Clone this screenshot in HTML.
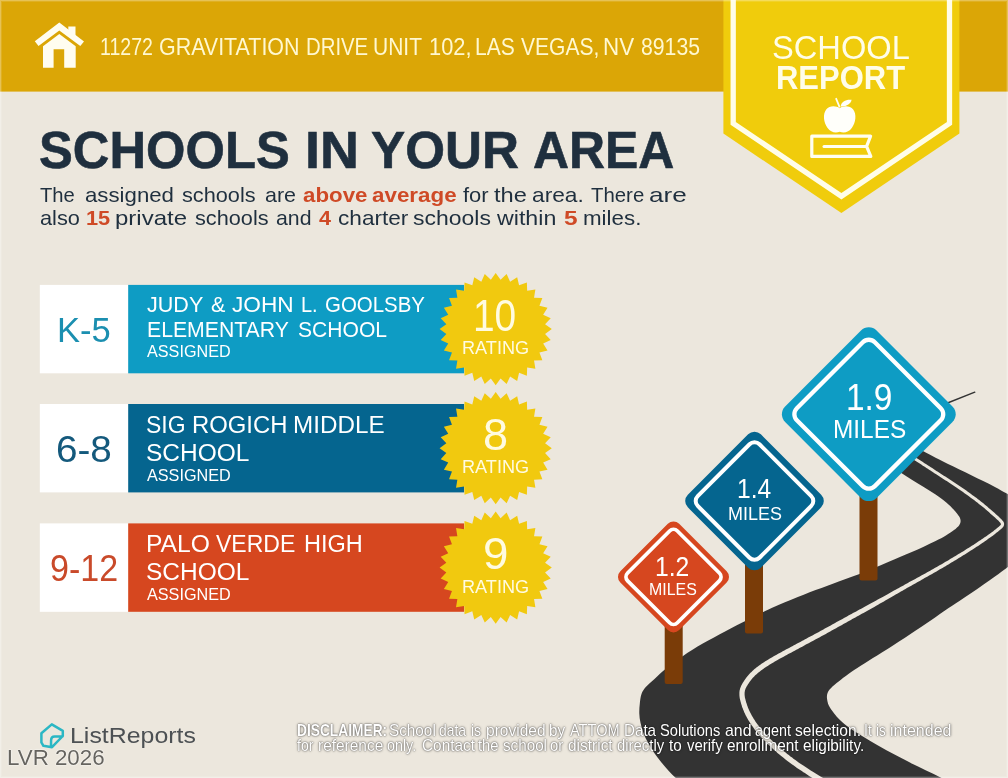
<!DOCTYPE html>
<html lang="en"><head><meta charset="utf-8"><title>School Report</title><style>html,body{margin:0;padding:0}body{width:1008px;height:778px;overflow:hidden;background:#ece7dd;position:relative;font-family:"Liberation Sans",sans-serif}
.t{position:absolute;white-space:nowrap;line-height:1em;transform-origin:0 0;}
.tx{position:absolute;left:0;top:0;width:1008px;height:778px;will-change:transform}
.edge{position:absolute;left:0;top:0;width:1008px;height:778px;box-sizing:border-box;border:1px solid rgba(255,255,255,.32);box-shadow:inset 0 0 0 1px rgba(255,255,255,.12)}
.wm{text-shadow:0 0 1.5px #fff,0 0 1.5px #fff}
.sh{text-shadow:0 0 1.5px rgba(0,0,0,.7),0 0 3px rgba(0,0,0,.45)}</style></head><body>
<svg width="1008" height="778" viewBox="0 0 1008 778" style="position:absolute;left:0;top:0"><rect x="0" y="0" width="1008" height="91.6" fill="#dba606"/><path d="M723.4 0 H959.4 V133.6 L841.4 213 L723.4 133.6 Z" fill="#f0cc0c"/><path d="M733.2 -5 V123.4 L841.4 196.3 L949.5 123.4 V-5" fill="none" stroke="#fffde8" stroke-width="5.3" stroke-linejoin="miter"/><g fill="#fffdf0"><path d="M59.3 22.4 L84 41.4 L80.3 46.1 L59.3 30.5 L38.5 46.1 L34.8 41.2 Z"/><path d="M68.3 26.4 H75.5 V36 L68.3 30.4 Z"/><path d="M43 46.2 L59.3 33.9 L75.7 46.2 V67.8 H64.2 V49.3 H53.6 V67.8 H43 Z"/></g><g fill="#fffffa"><path d="M839.7 108.2 C836 105.6 829.5 105.4 826.2 109.6 C822.6 114.2 823.6 122.6 827.6 128 C830.6 132 835 133.6 839.7 131.8 C844.4 133.6 848.8 132 851.8 128 C855.8 122.6 856.8 114.2 853.2 109.6 C849.9 105.4 843.4 105.6 839.7 108.2 Z"/><path d="M840.6 106.4 C841.2 101.6 846 99.2 851.6 99.8 C850.8 104 846.4 106.8 840.6 106.4 Z"/></g><path d="M839.4 106.6 L836.2 98.8" stroke="#fffef0" stroke-width="1.8" stroke-linecap="round" fill="none"/><path d="M870.6 136.2 H811.8 V156.4 H870.8 L866.6 146.4 Z" fill="none" stroke="#fffef0" stroke-width="3.2" stroke-linejoin="round"/><path d="M824 146.4 H866" stroke="#fffef0" stroke-width="3" stroke-linecap="round"/><rect x="39.8" y="284.9" width="88.5" height="88.4" fill="#fff"/><rect x="128.2" y="284.9" width="335.9" height="88.4" fill="#0e9cc4"/><polygon points="495.70,273.00 500.56,279.74 506.64,274.08 510.10,281.64 517.17,277.27 519.08,285.36 526.87,282.45 527.17,290.76 535.37,289.43 534.04,297.63 542.35,297.93 539.44,305.72 547.53,307.63 543.16,314.70 550.72,318.16 545.06,324.24 551.80,329.10 545.06,333.96 550.72,340.04 543.16,343.50 547.53,350.57 539.44,352.48 542.35,360.27 534.04,360.57 535.37,368.77 527.17,367.44 526.87,375.75 519.08,372.84 517.17,380.93 510.10,376.56 506.64,384.12 500.56,378.46 495.70,385.20 490.84,378.46 484.76,384.12 481.30,376.56 474.23,380.93 472.32,372.84 464.53,375.75 464.23,367.44 456.03,368.77 457.36,360.57 449.05,360.27 451.96,352.48 443.87,350.57 448.24,343.50 440.68,340.04 446.34,333.96 439.60,329.10 446.34,324.24 440.68,318.16 448.24,314.70 443.87,307.63 451.96,305.72 449.05,297.93 457.36,297.63 456.03,289.43 464.23,290.76 464.53,282.45 472.32,285.36 474.23,277.27 481.30,281.64 484.76,274.08 490.84,279.74" fill="#f1c90f"/><rect x="39.8" y="404.0" width="88.5" height="88.4" fill="#fff"/><rect x="128.2" y="404.0" width="335.9" height="88.4" fill="#05658f"/><polygon points="495.70,392.10 500.56,398.84 506.64,393.18 510.10,400.74 517.17,396.37 519.08,404.46 526.87,401.55 527.17,409.86 535.37,408.53 534.04,416.73 542.35,417.03 539.44,424.82 547.53,426.73 543.16,433.80 550.72,437.26 545.06,443.34 551.80,448.20 545.06,453.06 550.72,459.14 543.16,462.60 547.53,469.67 539.44,471.58 542.35,479.37 534.04,479.67 535.37,487.87 527.17,486.54 526.87,494.85 519.08,491.94 517.17,500.03 510.10,495.66 506.64,503.22 500.56,497.56 495.70,504.30 490.84,497.56 484.76,503.22 481.30,495.66 474.23,500.03 472.32,491.94 464.53,494.85 464.23,486.54 456.03,487.87 457.36,479.67 449.05,479.37 451.96,471.58 443.87,469.67 448.24,462.60 440.68,459.14 446.34,453.06 439.60,448.20 446.34,443.34 440.68,437.26 448.24,433.80 443.87,426.73 451.96,424.82 449.05,417.03 457.36,416.73 456.03,408.53 464.23,409.86 464.53,401.55 472.32,404.46 474.23,396.37 481.30,400.74 484.76,393.18 490.84,398.84" fill="#f1c90f"/><rect x="39.8" y="523.4" width="88.5" height="88.4" fill="#fff"/><rect x="128.2" y="523.4" width="335.9" height="88.4" fill="#d6471f"/><polygon points="495.70,511.50 500.56,518.24 506.64,512.58 510.10,520.14 517.17,515.77 519.08,523.86 526.87,520.95 527.17,529.26 535.37,527.93 534.04,536.13 542.35,536.43 539.44,544.22 547.53,546.13 543.16,553.20 550.72,556.66 545.06,562.74 551.80,567.60 545.06,572.46 550.72,578.54 543.16,582.00 547.53,589.07 539.44,590.98 542.35,598.77 534.04,599.07 535.37,607.27 527.17,605.94 526.87,614.25 519.08,611.34 517.17,619.43 510.10,615.06 506.64,622.62 500.56,616.96 495.70,623.70 490.84,616.96 484.76,622.62 481.30,615.06 474.23,619.43 472.32,611.34 464.53,614.25 464.23,605.94 456.03,607.27 457.36,599.07 449.05,598.77 451.96,590.98 443.87,589.07 448.24,582.00 440.68,578.54 446.34,572.46 439.60,567.60 446.34,562.74 440.68,556.66 448.24,553.20 443.87,546.13 451.96,544.22 449.05,536.43 457.36,536.13 456.03,527.93 464.23,529.26 464.53,520.95 472.32,523.86 474.23,515.77 481.30,520.14 484.76,512.58 490.84,518.24" fill="#f1c90f"/><path d="M683.0 785.0 C681.8 783.9 678.3 780.5 676.0 778.2 C673.6 775.8 671.3 773.6 668.8 770.9 C666.4 768.2 663.7 765.2 661.3 762.2 C658.8 759.2 656.3 755.9 654.1 752.7 C651.9 749.5 649.9 746.4 648.2 743.1 C646.4 739.9 644.8 736.6 643.5 733.3 C642.3 730.0 641.3 726.5 640.6 723.2 C639.8 719.9 639.4 716.6 639.3 713.4 C639.2 710.2 639.4 707.0 639.8 703.8 C640.1 700.6 640.5 696.8 641.5 694.0 C642.5 691.2 643.6 689.5 645.8 687.0 C648.0 684.5 651.0 682.0 654.5 678.9 C657.9 675.8 661.7 672.1 666.5 668.3 C671.2 664.5 676.9 660.1 683.0 656.0 C689.0 651.8 695.7 647.7 702.8 643.6 C709.8 639.5 718.0 635.2 725.5 631.2 C732.9 627.3 740.9 623.3 747.4 620.0 C754.0 616.6 759.5 613.8 764.7 611.2 C770.0 608.7 774.5 606.7 779.0 604.7 C783.5 602.8 787.7 601.2 791.8 599.5 C795.9 597.9 799.7 596.3 803.7 594.8 C807.7 593.2 811.6 591.7 815.6 590.1 C819.6 588.6 823.5 587.2 827.5 585.7 C831.5 584.2 835.6 582.6 839.4 581.2 C843.2 579.8 846.7 578.6 850.4 577.2 C854.2 575.8 857.7 574.6 861.9 572.9 C866.1 571.3 871.0 569.4 875.4 567.6 C879.8 565.8 884.1 563.9 888.2 562.1 C892.3 560.3 896.0 558.7 899.9 557.0 C903.8 555.3 907.8 553.6 911.8 551.9 C915.8 550.2 919.7 548.5 923.7 546.7 C927.7 544.9 931.8 543.0 935.6 541.1 C939.4 539.2 943.3 537.2 946.3 535.3 C949.4 533.5 951.9 531.8 954.0 530.1 C956.2 528.4 958.1 526.7 959.2 525.2 C960.3 523.7 960.6 522.4 960.6 521.0 C960.6 519.6 960.3 518.5 959.2 516.6 C958.1 514.7 956.2 512.2 954.0 509.9 C951.9 507.5 949.4 504.9 946.3 502.4 C943.3 499.8 939.4 497.0 935.6 494.5 C931.8 491.9 927.6 489.4 923.7 487.0 C919.8 484.6 916.0 482.3 912.2 480.0 C908.5 477.7 905.0 475.5 901.3 473.1 C897.6 470.8 891.9 467.2 890.0 466.0 L905.0 442.0 C907.8 443.4 916.9 448.0 922.0 450.6 C927.1 453.2 931.4 455.5 935.6 457.7 C939.9 459.9 943.5 461.8 947.5 463.8 C951.5 465.7 955.4 467.6 959.4 469.5 C963.4 471.4 967.3 473.3 971.3 475.2 C975.3 477.1 979.2 479.1 983.2 481.1 C987.2 483.1 991.5 485.3 995.4 487.3 C999.2 489.4 1003.2 491.6 1006.3 493.3 C1009.4 495.0 1012.7 497.1 1014.0 497.8 L1014.0 562.5 C1012.7 563.5 1009.4 566.0 1006.3 568.2 C1003.2 570.5 999.2 573.5 995.3 576.2 C991.5 579.0 987.2 582.0 983.2 584.8 C979.2 587.6 975.3 590.3 971.3 593.0 C967.3 595.7 963.2 598.4 959.4 600.9 C955.6 603.4 952.5 605.4 948.6 608.1 C944.7 610.8 941.2 613.2 935.8 616.9 C930.4 620.6 923.3 625.6 916.1 630.3 C909.0 635.1 900.2 640.9 893.0 645.5 C885.7 650.2 878.5 654.6 872.5 658.3 C866.6 662.1 861.8 665.0 857.3 668.0 C852.9 670.9 849.3 673.4 845.8 675.9 C842.3 678.4 839.3 680.8 836.6 683.0 C833.9 685.3 831.3 687.6 829.8 689.3 C828.3 691.0 827.9 692.0 827.4 693.5 C826.9 695.0 826.8 696.5 827.0 698.5 C827.2 700.5 827.7 703.1 828.8 705.5 C829.9 707.9 831.9 710.4 833.8 712.9 C835.7 715.4 837.7 717.8 840.2 720.2 C842.7 722.6 845.2 724.8 848.7 727.3 C852.2 729.9 856.4 732.5 861.2 735.5 C866.0 738.5 871.9 742.0 877.6 745.2 C883.3 748.5 889.5 751.8 895.5 755.0 C901.4 758.2 907.7 761.4 913.3 764.3 C919.0 767.1 924.5 769.7 929.4 772.1 C934.3 774.5 938.2 776.3 942.5 778.5 C946.8 780.6 952.9 783.9 955.0 785.0 Z" fill="#333333"/><path d="M830.5 782.7 L829.7 782.2 L828.7 781.6 L827.4 780.8 L826.1 779.9 L824.7 779.1 L823.2 778.1 L821.8 777.3 L820.5 776.5 L819.3 775.7 L818.1 775.0 L816.9 774.2 L815.7 773.5 L814.5 772.8 L813.3 772.0 L812.0 771.3 L810.7 770.4 L809.3 769.5 L807.8 768.6 L806.3 767.6 L804.8 766.6 L803.3 765.6 L801.7 764.5 L800.1 763.5 L798.6 762.4 L797.0 761.2 L795.4 760.1 L793.7 758.9 L792.1 757.6 L790.4 756.4 L788.8 755.1 L787.2 753.9 L785.6 752.6 L784.1 751.4 L782.5 750.1 L781.0 748.8 L779.6 747.5 L778.1 746.3 L776.7 745.0 L775.2 743.7 L773.8 742.4 L772.5 741.0 L771.1 739.7 L769.8 738.4 L768.5 737.1 L767.2 735.8 L766.0 734.5 L764.7 733.1 L763.6 731.8 L762.4 730.5 L761.3 729.2 L760.3 727.9 L759.2 726.6 L758.2 725.3 L757.2 724.0 L756.3 722.7 L755.4 721.4 L754.6 720.1 L753.8 718.9 L753.0 717.6 L752.2 716.3 L751.5 715.0 L750.9 713.8 L750.2 712.6 L749.7 711.4 L749.1 710.2 L748.6 709.0 L748.1 707.9 L747.7 706.8 L747.3 705.7 L746.9 704.6 L746.6 703.5 L746.2 702.4 L745.9 701.3 L745.6 700.3 L745.4 699.3 L745.1 698.3 L744.9 697.4 L744.8 696.5 L744.7 695.7 L744.6 694.8 L744.6 694.1 L744.6 693.3 L744.6 692.7 L744.7 692.1 L744.8 691.4 L744.9 690.8 L745.1 690.1 L745.3 689.4 L745.6 688.6 L746.0 687.8 L746.4 687.0 L746.9 686.1 L747.5 685.2 L748.0 684.3 L748.6 683.4 L749.2 682.5 L749.9 681.6 L750.5 680.7 L751.2 679.8 L751.9 679.0 L752.6 678.1 L753.4 677.2 L754.2 676.4 L755.0 675.5 L755.9 674.7 L756.9 673.9 L757.8 673.0 L758.8 672.2 L759.9 671.4 L761.0 670.5 L762.1 669.7 L763.2 668.9 L764.4 668.1 L765.6 667.3 L766.8 666.5 L768.1 665.7 L769.4 664.8 L770.7 664.0 L772.0 663.2 L773.4 662.4 L774.8 661.6 L776.2 660.8 L777.6 660.0 L779.1 659.1 L780.6 658.3 L782.1 657.5 L783.6 656.7 L785.2 655.8 L786.7 655.0 L788.3 654.1 L789.9 653.3 L791.5 652.4 L793.1 651.5 L794.7 650.7 L796.3 649.8 L798.0 648.9 L799.5 648.1 L801.1 647.2 L802.7 646.4 L804.3 645.5 L805.9 644.6 L807.5 643.8 L809.1 642.9 L810.7 642.1 L812.2 641.3 L813.7 640.4 L815.3 639.6 L816.8 638.8 L818.3 638.0 L819.8 637.2 L821.3 636.3 L822.8 635.5 L824.3 634.7 L825.8 633.9 L827.3 633.1 L828.7 632.2 L830.2 631.4 L831.7 630.6 L833.1 629.8 L834.6 629.0 L836.1 628.2 L837.6 627.3 L839.0 626.5 L840.5 625.7 L842.0 624.9 L843.4 624.1 L844.9 623.2 L846.4 622.4 L847.9 621.6 L849.4 620.8 L850.9 620.0 L852.3 619.1 L853.8 618.3 L855.4 617.5 L856.9 616.6 L858.5 615.7 L860.2 614.8 L861.8 613.8 L863.5 612.9 L865.3 611.9 L867.0 610.9 L868.8 609.9 L870.6 608.9 L872.4 607.9 L874.3 606.9 L876.2 605.8 L878.1 604.7 L880.0 603.6 L882.0 602.5 L883.9 601.4 L885.7 600.3 L887.6 599.3 L889.3 598.3 L891.1 597.2 L892.8 596.3 L894.5 595.3 L896.1 594.3 L897.7 593.4 L899.3 592.5 L900.9 591.6 L902.5 590.7 L904.0 589.8 L905.5 589.0 L906.9 588.1 L908.4 587.3 L909.8 586.5 L911.3 585.7 L912.8 584.8 L914.3 584.0 L915.7 583.2 L917.2 582.3 L918.7 581.5 L920.2 580.7 L921.7 579.8 L923.1 579.0 L924.6 578.1 L926.1 577.3 L927.6 576.5 L929.1 575.6 L930.6 574.8 L932.1 573.9 L933.6 573.1 L935.0 572.2 L936.5 571.4 L938.0 570.5 L939.5 569.6 L941.0 568.8 L942.5 567.9 L944.0 567.0 L945.5 566.2 L946.9 565.3 L948.4 564.4 L949.9 563.5 L951.4 562.6 L952.9 561.7 L954.4 560.8 L955.9 559.9 L957.4 559.0 L958.8 558.1 L960.3 557.2 L961.8 556.2 L963.3 555.3 L964.8 554.4 L966.3 553.4 L967.8 552.5 L969.3 551.5 L970.8 550.6 L972.2 549.7 L973.7 548.7 L975.2 547.8 L976.6 546.8 L978.1 545.9 L979.5 544.9 L980.9 544.0 L982.3 543.1 L983.6 542.2 L984.9 541.3 L986.1 540.4 L987.4 539.5 L988.6 538.6 L989.8 537.8 L990.9 537.0 L992.0 536.2 L993.1 535.4 L994.0 534.7 L995.0 534.0 L995.8 533.3 L996.7 532.6 L997.5 532.0 L998.2 531.4 L998.9 530.8 L999.6 530.2 L1000.2 529.7 L1000.8 529.2 L1001.4 528.7 L1002.0 528.2 L1002.5 527.7 L1003.0 527.1 L1003.5 526.5 L1003.8 525.7 L1004.0 525.1 L1004.1 524.4 L1004.1 523.7 L1004.0 523.0 L1003.7 522.3 L1003.3 521.6 L1002.8 520.9 L1002.2 520.2 L1001.4 519.3 L1000.5 518.4 L999.5 517.4 L998.3 516.3 L997.1 515.2 L995.9 514.2 L994.7 513.1 L993.5 512.0 L992.3 511.0 L991.2 510.0 L990.0 508.9 L988.7 507.9 L987.5 506.8 L986.2 505.7 L984.9 504.7 L983.6 503.6 L982.3 502.5 L980.9 501.4 L979.5 500.3 L978.0 499.2 L976.6 498.1 L975.1 497.0 L973.7 495.9 L972.2 494.9 L970.7 493.8 L969.3 492.7 L967.8 491.7 L966.3 490.6 L964.8 489.6 L963.3 488.6 L961.8 487.5 L960.3 486.5 L958.8 485.5 L957.3 484.5 L955.8 483.5 L954.3 482.5 L952.8 481.5 L951.3 480.6 L949.8 479.6 L948.3 478.6 L946.8 477.6 L945.3 476.6 L943.8 475.7 L942.3 474.7 L940.8 473.7 L939.3 472.8 L937.9 471.8 L936.4 470.9 L935.0 469.9 L933.6 469.0 L932.2 468.1 L930.8 467.2 L929.4 466.3 L928.1 465.4 L926.7 464.6 L925.4 463.7 L924.1 462.9 L922.9 462.1 L921.7 461.3 L920.5 460.5 L919.3 459.8 L918.1 459.0 L916.9 458.2 L915.7 457.5 L914.4 456.7 L913.0 455.8 L911.5 454.9 L910.1 454.0 L908.8 453.1 L907.6 452.4 L906.5 451.7 L905.8 451.3 L904.2 453.7 L905.0 454.2 L906.0 454.9 L907.2 455.6 L908.5 456.5 L910.0 457.4 L911.4 458.3 L912.8 459.2 L914.1 460.0 L915.3 460.8 L916.5 461.5 L917.7 462.3 L918.9 463.0 L920.1 463.8 L921.3 464.6 L922.5 465.4 L923.8 466.2 L925.1 467.1 L926.4 467.9 L927.8 468.8 L929.1 469.7 L930.5 470.6 L931.9 471.5 L933.4 472.5 L934.8 473.4 L936.2 474.3 L937.7 475.3 L939.2 476.2 L940.7 477.2 L942.2 478.2 L943.7 479.2 L945.2 480.2 L946.7 481.1 L948.2 482.1 L949.6 483.1 L951.1 484.1 L952.6 485.1 L954.1 486.0 L955.6 487.0 L957.1 488.0 L958.5 489.0 L960.0 490.1 L961.5 491.1 L963.0 492.1 L964.5 493.2 L966.0 494.2 L967.5 495.3 L968.9 496.3 L970.4 497.4 L971.8 498.4 L973.3 499.5 L974.7 500.6 L976.1 501.7 L977.6 502.8 L978.9 503.9 L980.3 504.9 L981.6 506.0 L982.9 507.1 L984.2 508.1 L985.5 509.2 L986.7 510.2 L987.9 511.3 L989.1 512.3 L990.2 513.4 L991.4 514.4 L992.6 515.5 L993.8 516.5 L995.0 517.6 L996.2 518.7 L997.3 519.7 L998.3 520.6 L999.1 521.5 L999.8 522.2 L1000.3 522.8 L1000.6 523.3 L1000.8 523.7 L1000.9 523.9 L1000.9 524.0 L1000.9 524.2 L1000.9 524.4 L1000.8 524.7 L1000.7 524.9 L1000.5 525.1 L1000.2 525.4 L999.8 525.8 L999.3 526.2 L998.8 526.7 L998.1 527.2 L997.5 527.7 L996.8 528.3 L996.1 528.9 L995.4 529.5 L994.6 530.1 L993.8 530.7 L993.0 531.4 L992.1 532.1 L991.1 532.8 L990.1 533.5 L989.0 534.3 L987.9 535.1 L986.7 535.9 L985.5 536.8 L984.2 537.6 L983.0 538.5 L981.7 539.3 L980.4 540.2 L979.0 541.1 L977.6 542.1 L976.2 543.0 L974.7 543.9 L973.3 544.9 L971.8 545.8 L970.4 546.7 L968.9 547.7 L967.4 548.6 L965.9 549.5 L964.5 550.5 L963.0 551.4 L961.5 552.3 L960.0 553.2 L958.5 554.1 L957.0 555.0 L955.5 555.9 L954.0 556.8 L952.5 557.7 L951.0 558.6 L949.5 559.5 L948.1 560.4 L946.6 561.3 L945.1 562.1 L943.6 563.0 L942.1 563.9 L940.6 564.7 L939.1 565.6 L937.6 566.4 L936.2 567.3 L934.7 568.1 L933.2 569.0 L931.7 569.8 L930.2 570.7 L928.7 571.5 L927.2 572.3 L925.7 573.2 L924.3 574.0 L922.8 574.8 L921.3 575.6 L919.8 576.4 L918.3 577.3 L916.8 578.1 L915.3 578.9 L913.8 579.7 L912.3 580.5 L910.8 581.3 L909.3 582.1 L907.9 582.9 L906.4 583.7 L904.9 584.5 L903.5 585.4 L902.0 586.2 L900.4 587.0 L898.9 587.9 L897.3 588.8 L895.6 589.7 L894.0 590.6 L892.3 591.6 L890.6 592.5 L888.9 593.5 L887.2 594.4 L885.4 595.4 L883.6 596.4 L881.7 597.5 L879.7 598.6 L877.8 599.6 L875.8 600.7 L873.9 601.8 L872.0 602.8 L870.1 603.8 L868.3 604.8 L866.5 605.8 L864.7 606.8 L863.0 607.7 L861.2 608.7 L859.5 609.6 L857.8 610.5 L856.2 611.4 L854.6 612.3 L853.0 613.1 L851.5 614.0 L849.9 614.8 L848.4 615.6 L847.0 616.4 L845.5 617.2 L844.0 618.0 L842.5 618.9 L841.0 619.7 L839.5 620.5 L838.1 621.3 L836.6 622.1 L835.1 622.9 L833.7 623.8 L832.2 624.6 L830.7 625.4 L829.2 626.2 L827.8 627.0 L826.3 627.8 L824.8 628.6 L823.4 629.5 L821.9 630.3 L820.4 631.1 L818.9 631.9 L817.4 632.7 L815.9 633.5 L814.4 634.3 L812.9 635.2 L811.3 636.0 L809.8 636.8 L808.2 637.6 L806.7 638.5 L805.1 639.3 L803.5 640.2 L801.9 641.0 L800.3 641.9 L798.7 642.7 L797.1 643.6 L795.5 644.5 L793.9 645.3 L792.3 646.2 L790.7 647.0 L789.1 647.9 L787.5 648.8 L785.9 649.6 L784.3 650.5 L782.7 651.3 L781.2 652.2 L779.7 653.0 L778.1 653.8 L776.6 654.7 L775.1 655.5 L773.7 656.3 L772.2 657.2 L770.8 658.0 L769.4 658.8 L768.0 659.7 L766.7 660.5 L765.3 661.3 L764.0 662.2 L762.7 663.0 L761.5 663.8 L760.3 664.7 L759.1 665.6 L757.9 666.4 L756.7 667.3 L755.6 668.2 L754.5 669.1 L753.5 670.0 L752.4 670.9 L751.5 671.9 L750.5 672.8 L749.6 673.7 L748.7 674.7 L747.9 675.7 L747.2 676.6 L746.4 677.6 L745.7 678.6 L745.0 679.5 L744.3 680.5 L743.7 681.5 L743.0 682.5 L742.4 683.5 L741.9 684.5 L741.3 685.6 L740.9 686.6 L740.5 687.6 L740.1 688.6 L739.9 689.5 L739.6 690.4 L739.5 691.4 L739.4 692.3 L739.4 693.2 L739.4 694.2 L739.4 695.2 L739.5 696.2 L739.6 697.3 L739.8 698.4 L740.0 699.5 L740.3 700.6 L740.6 701.7 L740.9 702.8 L741.2 703.9 L741.6 705.0 L741.9 706.2 L742.3 707.4 L742.8 708.6 L743.2 709.8 L743.8 711.1 L744.3 712.4 L744.9 713.6 L745.5 714.9 L746.2 716.2 L746.9 717.6 L747.7 718.9 L748.4 720.3 L749.3 721.6 L750.1 723.0 L751.0 724.4 L752.0 725.8 L753.0 727.1 L754.0 728.5 L755.0 729.9 L756.1 731.2 L757.2 732.6 L758.4 734.0 L759.6 735.4 L760.8 736.7 L762.0 738.1 L763.3 739.5 L764.7 740.8 L766.0 742.2 L767.4 743.6 L768.8 744.9 L770.2 746.2 L771.6 747.6 L773.0 748.9 L774.5 750.3 L776.0 751.6 L777.5 752.9 L779.1 754.2 L780.6 755.5 L782.2 756.8 L783.8 758.1 L785.5 759.4 L787.1 760.7 L788.8 762.0 L790.5 763.2 L792.2 764.4 L793.8 765.6 L795.4 766.8 L797.0 767.9 L798.6 769.0 L800.2 770.1 L801.8 771.1 L803.4 772.2 L804.9 773.1 L806.3 774.1 L807.7 775.0 L809.1 775.9 L810.4 776.7 L811.6 777.4 L812.8 778.2 L814.0 778.9 L815.2 779.6 L816.4 780.4 L817.6 781.1 L818.9 781.9 L820.3 782.8 L821.8 783.7 L823.2 784.6 L824.5 785.4 L825.8 786.2 L826.8 786.8 L827.5 787.3 Z" fill="#ece7dd"/><path d="M859.5 480.0 V578.4 Q859.5 580.4 861.5 580.4 H875.5 Q877.5 580.4 877.5 578.4 V480.0 Z" fill="#7a3c08"/><path d="M745.0 550.0 V631.4 Q745.0 633.4 747.0 633.4 H761.0 Q763.0 633.4 763.0 631.4 V550.0 Z" fill="#7a3c08"/><path d="M664.7 615.0 V681.9 Q664.7 683.9 666.7 683.9 H680.7 Q682.7 683.9 682.7 681.9 V615.0 Z" fill="#7a3c08"/><path d="M947.5 403 L974.8 392.2" stroke="#333" stroke-width="1.4" stroke-linecap="round"/><g transform="translate(868.80 414.20) rotate(45)"><rect x="-64.67" y="-64.67" width="129.34" height="129.34" rx="11.00" fill="#0e9cc4"/><rect x="-55.12" y="-55.12" width="110.24" height="110.24" rx="8.50" fill="none" stroke="#fff" stroke-width="4.30"/></g><g transform="translate(754.50 501.00) rotate(45)"><rect x="-51.64" y="-51.64" width="103.28" height="103.28" rx="9.00" fill="#05658f"/><rect x="-43.64" y="-43.64" width="87.28" height="87.28" rx="7.00" fill="none" stroke="#fff" stroke-width="4.00"/></g><g transform="translate(673.50 576.90) rotate(45)"><rect x="-41.59" y="-41.59" width="83.18" height="83.18" rx="8.00" fill="#d6471f"/><rect x="-35.19" y="-35.19" width="70.38" height="70.38" rx="5.50" fill="none" stroke="#fff" stroke-width="3.80"/></g><path d="M51.8 724.4 L62.8 730.9 V736 L52 747.2 L43.4 745.8 L41.4 742.4 V733.2 Z M62.4 736.5 H54.6 Q51.2 736.5 51.1 740 L51 746.6" fill="none" stroke="#2bb7c4" stroke-width="2.5" stroke-linejoin="round" stroke-linecap="round"/></svg>
<div class="tx">
<div class="t" style="left:99.55px;top:36.11px;font-size:23.26px;transform:scaleX(0.8400);color:#fff8d0;">11272</div>
<div class="t" style="left:158.98px;top:36.11px;font-size:23.26px;transform:scaleX(0.9218);color:#fff8d0;">GRAVITATION</div>
<div class="t" style="left:305.92px;top:36.11px;font-size:23.26px;transform:scaleX(0.8750);color:#fff8d0;">DRIVE</div>
<div class="t" style="left:373.35px;top:36.11px;font-size:23.26px;transform:scaleX(0.9038);color:#fff8d0;">UNIT</div>
<div class="t" style="left:428.70px;top:36.11px;font-size:23.26px;transform:scaleX(0.9395);color:#fff8d0;">102,</div>
<div class="t" style="left:475.45px;top:36.11px;font-size:23.26px;transform:scaleX(0.9054);color:#fff8d0;">LAS</div>
<div class="t" style="left:521.07px;top:36.11px;font-size:23.26px;transform:scaleX(0.9043);color:#fff8d0;">VEGAS,</div>
<div class="t" style="left:602.54px;top:36.11px;font-size:23.26px;transform:scaleX(0.9631);color:#fff8d0;">NV</div>
<div class="t" style="left:640.92px;top:36.11px;font-size:23.26px;transform:scaleX(0.9131);color:#fff8d0;">89135</div>
<div class="t" style="left:772.09px;top:30.11px;font-size:34.01px;transform:scaleX(0.9602);color:#fffde8;">SCHOOL</div>
<div class="t" style="left:775.75px;top:61.99px;font-size:32.85px;transform:scaleX(0.9436);color:#fffde8;"><span style="font-weight:bold;">REPORT</span></div>
<div class="t" style="left:38.91px;top:125.14px;font-size:51.45px;transform:scaleX(0.9857);color:#1f2f3e;-webkit-text-stroke:0.6px #1f2f3e;"><span style="font-weight:bold;">SCHOOLS</span></div>
<div class="t" style="left:304.97px;top:125.14px;font-size:51.45px;transform:scaleX(1.0481);color:#1f2f3e;-webkit-text-stroke:0.6px #1f2f3e;"><span style="font-weight:bold;">IN</span></div>
<div class="t" style="left:371.12px;top:125.14px;font-size:51.45px;transform:scaleX(0.9951);color:#1f2f3e;-webkit-text-stroke:0.6px #1f2f3e;"><span style="font-weight:bold;">YOUR</span></div>
<div class="t" style="left:533.38px;top:125.14px;font-size:51.45px;transform:scaleX(0.9699);color:#1f2f3e;-webkit-text-stroke:0.6px #1f2f3e;"><span style="font-weight:bold;">AREA</span></div>
<div class="t" style="left:40.31px;top:184.88px;font-size:20.93px;transform:scaleX(0.9660);color:#1f2f3e;">The</div>
<div class="t" style="left:84.51px;top:184.88px;font-size:20.93px;transform:scaleX(1.0625);color:#1f2f3e;">assigned</div>
<div class="t" style="left:182.18px;top:184.88px;font-size:20.93px;transform:scaleX(1.0377);color:#1f2f3e;">schools</div>
<div class="t" style="left:264.60px;top:184.88px;font-size:20.93px;transform:scaleX(1.0273);color:#1f2f3e;">are</div>
<div class="t" style="left:303.11px;top:184.88px;font-size:20.93px;transform:scaleX(1.0656);color:#1f2f3e;"><span style="font-weight:bold;color:#cf4a26;">above</span></div>
<div class="t" style="left:372.12px;top:184.88px;font-size:20.93px;transform:scaleX(1.0697);color:#1f2f3e;"><span style="font-weight:bold;color:#cf4a26;">average</span></div>
<div class="t" style="left:462.90px;top:184.88px;font-size:20.93px;transform:scaleX(1.0499);color:#1f2f3e;">for</div>
<div class="t" style="left:493.96px;top:184.88px;font-size:20.93px;transform:scaleX(1.1305);color:#1f2f3e;">the</div>
<div class="t" style="left:531.71px;top:184.88px;font-size:20.93px;transform:scaleX(1.0869);color:#1f2f3e;">area.</div>
<div class="t" style="left:590.51px;top:184.88px;font-size:20.93px;transform:scaleX(0.9741);color:#1f2f3e;">There</div>
<div class="t" style="left:649.02px;top:184.88px;font-size:20.93px;transform:scaleX(1.2495);color:#1f2f3e;">are</div>
<div class="t" style="left:39.91px;top:208.28px;font-size:20.93px;transform:scaleX(1.0412);color:#1f2f3e;">also</div>
<div class="t" style="left:86.38px;top:208.28px;font-size:20.93px;transform:scaleX(1.0418);color:#1f2f3e;"><span style="font-weight:bold;color:#cf4a26;">15</span></div>
<div class="t" style="left:114.96px;top:208.28px;font-size:20.93px;transform:scaleX(1.1479);color:#1f2f3e;">private</div>
<div class="t" style="left:194.59px;top:208.28px;font-size:20.93px;transform:scaleX(1.0375);color:#1f2f3e;">schools</div>
<div class="t" style="left:275.88px;top:208.28px;font-size:20.93px;transform:scaleX(1.0164);color:#1f2f3e;">and</div>
<div class="t" style="left:319.00px;top:208.28px;font-size:20.93px;transform:scaleX(1.0330);color:#1f2f3e;"><span style="font-weight:bold;color:#cf4a26;">4</span></div>
<div class="t" style="left:338.11px;top:208.28px;font-size:20.93px;transform:scaleX(1.0812);color:#1f2f3e;">charter</div>
<div class="t" style="left:413.35px;top:208.28px;font-size:20.93px;transform:scaleX(1.0977);color:#1f2f3e;">schools</div>
<div class="t" style="left:496.86px;top:208.28px;font-size:20.93px;transform:scaleX(1.1092);color:#1f2f3e;">within</div>
<div class="t" style="left:563.66px;top:208.28px;font-size:20.93px;transform:scaleX(1.1667);color:#1f2f3e;"><span style="font-weight:bold;color:#cf4a26;">5</span></div>
<div class="t" style="left:583.24px;top:208.28px;font-size:20.93px;transform:scaleX(1.0677);color:#1f2f3e;">miles.</div>
<div class="t" style="left:57.12px;top:312.83px;font-size:35.76px;transform:scaleX(0.9668);color:#1b8fb0;">K-5</div>
<div class="t" style="left:56.07px;top:431.20px;font-size:37.21px;transform:scaleX(1.0389);color:#14597c;">6-8</div>
<div class="t" style="left:49.96px;top:551.45px;font-size:36.92px;transform:scaleX(0.9215);color:#c94a2a;">9-12</div>
<div class="t" style="left:146.91px;top:294.81px;font-size:21.37px;transform:scaleX(1.0092);color:#fff;">JUDY</div>
<div class="t" style="left:210.93px;top:294.81px;font-size:21.37px;transform:scaleX(1.0098);color:#fff;">&amp;</div>
<div class="t" style="left:231.83px;top:294.81px;font-size:21.37px;transform:scaleX(1.0606);color:#fff;">JOHN</div>
<div class="t" style="left:300.74px;top:294.81px;font-size:21.37px;transform:scaleX(0.9336);color:#fff;">L.</div>
<div class="t" style="left:324.67px;top:294.81px;font-size:21.37px;transform:scaleX(0.9571);color:#fff;">GOOLSBY</div>
<div class="t" style="left:147.22px;top:320.01px;font-size:21.37px;transform:scaleX(0.9931);color:#fff;">ELEMENTARY</div>
<div class="t" style="left:298.14px;top:320.01px;font-size:21.37px;transform:scaleX(0.9866);color:#fff;">SCHOOL</div>
<div class="t" style="left:146.74px;top:343.04px;font-size:16.13px;transform:scaleX(1.0053);color:#fff;">ASSIGNED</div>
<div class="t" style="left:145.59px;top:414.04px;font-size:23.69px;transform:scaleX(0.9685);color:#fff;">SIG</div>
<div class="t" style="left:192.20px;top:414.04px;font-size:23.69px;transform:scaleX(1.0066);color:#fff;">ROGICH</div>
<div class="t" style="left:293.30px;top:414.04px;font-size:23.69px;transform:scaleX(1.0229);color:#fff;">MIDDLE</div>
<div class="t" style="left:146.39px;top:441.48px;font-size:24.13px;transform:scaleX(1.0150);color:#fff;">SCHOOL</div>
<div class="t" style="left:146.74px;top:468.41px;font-size:15.70px;transform:scaleX(1.0331);color:#fff;">ASSIGNED</div>
<div class="t" style="left:145.97px;top:533.04px;font-size:23.69px;transform:scaleX(1.0404);color:#fff;">PALO</div>
<div class="t" style="left:216.01px;top:533.04px;font-size:23.69px;transform:scaleX(0.9706);color:#fff;">VERDE</div>
<div class="t" style="left:303.70px;top:533.04px;font-size:23.69px;transform:scaleX(0.9925);color:#fff;">HIGH</div>
<div class="t" style="left:146.39px;top:560.48px;font-size:24.13px;transform:scaleX(1.0150);color:#fff;">SCHOOL</div>
<div class="t" style="left:146.74px;top:586.77px;font-size:15.99px;transform:scaleX(1.0139);color:#fff;">ASSIGNED</div>
<div class="t" style="left:472.60px;top:295.09px;font-size:43.61px;transform:scaleX(0.8916);color:#fffbe0;">10</div>
<div class="t" style="left:461.63px;top:339.57px;font-size:17.88px;transform:scaleX(1.0160);color:#fffbe0;">RATING</div>
<div class="t" style="left:483.22px;top:414.19px;font-size:43.61px;transform:scaleX(1.0353);color:#fffbe0;">8</div>
<div class="t" style="left:461.63px;top:458.67px;font-size:17.88px;transform:scaleX(1.0160);color:#fffbe0;">RATING</div>
<div class="t" style="left:483.07px;top:532.59px;font-size:43.61px;transform:scaleX(1.0486);color:#fffbe0;">9</div>
<div class="t" style="left:461.63px;top:579.07px;font-size:17.88px;transform:scaleX(1.0160);color:#fffbe0;">RATING</div>
<div class="t" style="left:846.43px;top:379.00px;font-size:37.21px;transform:scaleX(0.8980);color:#fff;">1.9</div>
<div class="t" style="left:832.87px;top:417.12px;font-size:25.73px;transform:scaleX(0.9484);color:#fff;">MILES</div>
<div class="t" style="left:737.28px;top:473.98px;font-size:28.49px;transform:scaleX(0.8630);color:#fff;">1.4</div>
<div class="t" style="left:728.46px;top:503.58px;font-size:19.04px;transform:scaleX(0.9434);color:#fff;">MILES</div>
<div class="t" style="left:655.12px;top:551.78px;font-size:28.49px;transform:scaleX(0.8668);color:#fff;">1.2</div>
<div class="t" style="left:648.74px;top:581.04px;font-size:16.13px;transform:scaleX(0.9882);color:#fff;">MILES</div>
<div class="t" style="left:70.47px;top:725.23px;font-size:22.53px;transform:scaleX(1.1058);color:#4d5154;">ListReports</div>
<div class="t wm" style="left:6.79px;top:747.24px;font-size:21.80px;transform:scaleX(1.0233);color:#66645f;">LVR 2026</div>
<div class="t sh" style="left:296.79px;top:722.49px;font-size:16.20px;transform:scaleX(0.8496);color:#fff;"><span style="font-weight:bold;">DISCLAIMER:</span></div>
<div class="t sh" style="left:389.31px;top:722.49px;font-size:16.20px;transform:scaleX(0.9451);color:#fff;">School</div>
<div class="t sh" style="left:439.10px;top:722.49px;font-size:16.20px;transform:scaleX(0.8572);color:#fff;">data</div>
<div class="t sh" style="left:471.10px;top:722.49px;font-size:16.20px;transform:scaleX(0.8655);color:#fff;">is</div>
<div class="t sh" style="left:485.56px;top:722.49px;font-size:16.20px;transform:scaleX(0.9603);color:#fff;">provided</div>
<div class="t sh" style="left:548.99px;top:722.49px;font-size:16.20px;transform:scaleX(0.9402);color:#fff;">by</div>
<div class="t sh" style="left:569.75px;top:722.49px;font-size:16.20px;transform:scaleX(0.8988);color:#fff;">ATTOM</div>
<div class="t sh" style="left:624.22px;top:722.49px;font-size:16.20px;transform:scaleX(0.9371);color:#fff;">Data</div>
<div class="t sh" style="left:659.99px;top:722.49px;font-size:16.20px;transform:scaleX(0.9045);color:#fff;">Solutions</div>
<div class="t sh" style="left:724.89px;top:722.49px;font-size:16.20px;transform:scaleX(0.9817);color:#fff;">and</div>
<div class="t sh" style="left:754.99px;top:722.49px;font-size:16.20px;transform:scaleX(0.8863);color:#fff;">agent</div>
<div class="t sh" style="left:794.79px;top:722.49px;font-size:16.20px;transform:scaleX(0.9647);color:#fff;">selection.</div>
<div class="t sh" style="left:864.12px;top:722.49px;font-size:16.20px;transform:scaleX(0.8793);color:#fff;">It</div>
<div class="t sh" style="left:876.21px;top:722.49px;font-size:16.20px;transform:scaleX(0.8339);color:#fff;">is</div>
<div class="t sh" style="left:889.57px;top:722.49px;font-size:16.20px;transform:scaleX(0.9894);color:#fff;">intended</div>
<div class="t sh" style="left:296.80px;top:737.09px;font-size:16.20px;transform:scaleX(0.8690);color:#fff;">for</div>
<div class="t sh" style="left:317.79px;top:737.09px;font-size:16.20px;transform:scaleX(0.9543);color:#fff;">reference</div>
<div class="t sh" style="left:387.14px;top:737.09px;font-size:16.20px;transform:scaleX(0.8842);color:#fff;">only.</div>
<div class="t sh" style="left:422.22px;top:737.09px;font-size:16.20px;transform:scaleX(0.9499);color:#fff;">Contact</div>
<div class="t sh" style="left:478.49px;top:737.09px;font-size:16.20px;transform:scaleX(0.9158);color:#fff;">the</div>
<div class="t sh" style="left:502.87px;top:737.09px;font-size:16.20px;transform:scaleX(0.9401);color:#fff;">school</div>
<div class="t sh" style="left:549.91px;top:737.09px;font-size:16.20px;transform:scaleX(0.9156);color:#fff;">or</div>
<div class="t sh" style="left:567.91px;top:737.09px;font-size:16.20px;transform:scaleX(0.9549);color:#fff;">district</div>
<div class="t sh" style="left:616.57px;top:737.09px;font-size:16.20px;transform:scaleX(0.9191);color:#fff;">directly</div>
<div class="t sh" style="left:668.62px;top:737.09px;font-size:16.20px;transform:scaleX(0.9396);color:#fff;">to</div>
<div class="t sh" style="left:687.00px;top:737.09px;font-size:16.20px;transform:scaleX(0.9221);color:#fff;">verify</div>
<div class="t sh" style="left:727.13px;top:737.09px;font-size:16.20px;transform:scaleX(0.9450);color:#fff;">enrollment</div>
<div class="t sh" style="left:802.72px;top:737.09px;font-size:16.20px;transform:scaleX(0.9491);color:#fff;">eligibility.</div>
</div>
<div class="edge"></div>
</body></html>
